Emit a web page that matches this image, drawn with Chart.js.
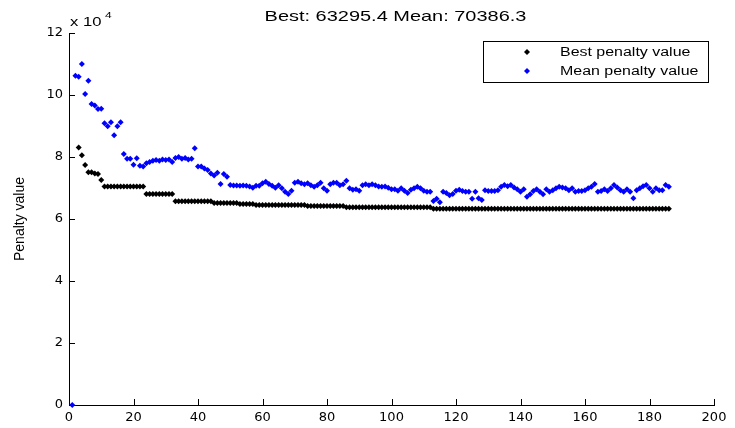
<!DOCTYPE html>
<html>
<head>
<meta charset="utf-8">
<script src="https://cdn.jsdelivr.net/npm/chart.js@4.4.0/dist/chart.umd.min.js"></script>
<style>
  html, body { margin: 0; padding: 0; background: #fff; }
</style>
</head>
<body>
<canvas id="chart" width="735" height="428"></canvas>
<script>
// values, penalty in units of 10^4
const titleText = 'Best: 63295.4 Mean: 70386.3';
const xTicks = [0, 20, 40, 60, 80, 100, 120, 140, 160, 180, 200];
const yTicks = [0, 2, 4, 6, 8, 10, 12];
const seriesLabels = ['Best penalty value', 'Mean penalty value'];

const meanStartGen = 1;
const meanPenalty = [
  0, 10.62, 10.59, 11.00, 10.03, 10.46, 9.71, 9.66, 9.55, 9.56,
  9.09, 8.99, 9.12, 8.70, 8.99, 9.12, 8.10, 7.94, 7.94, 7.75,
  7.96, 7.72, 7.69, 7.80, 7.84, 7.88, 7.90, 7.88, 7.92, 7.90,
  7.92, 7.84, 7.97, 8.00, 7.94, 7.97, 7.92, 7.94, 8.28, 7.69,
  7.69, 7.63, 7.58, 7.47, 7.40, 7.49, 7.13, 7.45, 7.36, 7.10,
  7.08, 7.08, 7.07, 7.08, 7.07, 7.05, 7.01, 7.07, 7.07, 7.15,
  7.20, 7.13, 7.07, 7.01, 7.09, 6.99, 6.88, 6.81, 6.91, 7.17,
  7.20, 7.15, 7.12, 7.15, 7.09, 7.04, 7.09, 7.17, 6.99, 6.91,
  7.12, 7.17, 7.17, 7.09, 7.12, 7.23, 6.99, 6.94, 6.96, 6.91,
  7.09, 7.12, 7.09, 7.12, 7.09, 7.05, 7.04, 7.05, 7.01, 6.96,
  6.96, 6.91, 6.99, 6.91, 6.84, 6.94, 6.99, 7.04, 6.99, 6.91,
  6.88, 6.88, 6.58, 6.65, 6.54, 6.88, 6.84, 6.77, 6.81, 6.91,
  6.94, 6.90, 6.88, 6.88, 6.65, 6.88, 6.67, 6.61, 6.93, 6.90,
  6.90, 6.90, 6.93, 7.04, 7.10, 7.06, 7.10, 7.02, 6.96, 6.88,
  6.96, 6.72, 6.80, 6.90, 6.96, 6.88, 6.80, 6.96, 6.88, 6.93,
  6.99, 7.04, 7.02, 6.99, 6.93, 6.99, 6.88, 6.90, 6.90, 6.93,
  6.99, 7.04, 7.13, 6.88, 6.90, 6.96, 6.90, 6.99, 7.10, 7.02,
  6.93, 6.88, 6.96, 6.88, 6.67, 6.93, 6.99, 7.06, 7.10, 6.99,
  6.88, 6.99, 6.93, 6.93, 7.10, 7.04
];

const bestStartGen = 3;
const bestPenalty = [
  8.31, 8.06, 7.74, 7.51, 7.51, 7.47, 7.45, 7.26,
  7.05, 7.05, 7.05, 7.05, 7.05, 7.05, 7.05, 7.05, 7.05, 7.05, 7.05, 7.05, 7.05,
  6.81, 6.81, 6.81, 6.81, 6.81, 6.81, 6.81, 6.81, 6.81,
  6.57, 6.57, 6.57, 6.57, 6.57, 6.57, 6.57, 6.57, 6.57, 6.57, 6.57, 6.57,
  6.52, 6.52, 6.52, 6.52, 6.52, 6.52, 6.52, 6.52,
  6.48, 6.48, 6.48, 6.48, 6.48,
  6.45, 6.45, 6.45, 6.45, 6.45, 6.45, 6.45, 6.45, 6.45, 6.45, 6.45, 6.45, 6.45, 6.45, 6.45, 6.45,
  6.42, 6.42, 6.42, 6.42, 6.42, 6.42, 6.42, 6.42, 6.42, 6.42, 6.42, 6.42,
  6.38, 6.38, 6.38, 6.38, 6.38, 6.38, 6.38, 6.38, 6.38, 6.38, 6.38, 6.38, 6.38, 6.38,
  6.38, 6.38, 6.38, 6.38, 6.38, 6.38, 6.38, 6.38, 6.38, 6.38, 6.38, 6.38, 6.38,
  6.33, 6.33, 6.33, 6.33, 6.33, 6.33, 6.33, 6.33, 6.33, 6.33, 6.33, 6.33, 6.33, 6.33, 6.33,
  6.33, 6.33, 6.33, 6.33, 6.33, 6.33, 6.33, 6.33, 6.33, 6.33, 6.33, 6.33, 6.33, 6.33, 6.33,
  6.33, 6.33, 6.33, 6.33, 6.33, 6.33, 6.33, 6.33, 6.33, 6.33, 6.33, 6.33, 6.33, 6.33, 6.33,
  6.33, 6.33, 6.33, 6.33, 6.33, 6.33, 6.33, 6.33, 6.33, 6.33, 6.33, 6.33, 6.33, 6.33, 6.33,
  6.33, 6.33, 6.33, 6.33, 6.33, 6.33, 6.33, 6.33, 6.33, 6.33, 6.33, 6.33, 6.33, 6.33
];

const toPoints = (vals, start) => vals.map((v, i) => ({ x: start + i, y: v }));

// the reference figure is stretched sideways, so the drawn text is too
const STRETCH = 1.33;

function diamond(ctx, x, y, r) {
  ctx.beginPath();
  ctx.moveTo(x, y - r);
  ctx.lineTo(x + r, y);
  ctx.lineTo(x, y + r);
  ctx.lineTo(x - r, y);
  ctx.closePath();
  ctx.fill();
}

function wideText(ctx, text, x, y, size, align) {
  ctx.save();
  ctx.translate(x, y);
  ctx.scale(STRETCH, 1);
  ctx.font = size + 'px "Liberation Sans", Arial, sans-serif';
  ctx.textAlign = align;
  ctx.textBaseline = 'alphabetic';
  ctx.fillStyle = '#000';
  ctx.fillText(text, 0, 0);
  ctx.restore();
}

const matlabLook = {
  id: 'matlabLook',
  beforeDatasetsDraw(chart) {
    const { ctx, chartArea, scales } = chart;
    ctx.save();
    ctx.strokeStyle = '#000';
    ctx.lineWidth = 1;
    ctx.beginPath();
    xTicks.forEach(v => {
      const px = Math.round(scales.x.getPixelForValue(v)) + 0.5;
      ctx.moveTo(px, chartArea.bottom);
      ctx.lineTo(px, chartArea.bottom - 6);
    });
    yTicks.forEach(v => {
      const py = Math.round(scales.y.getPixelForValue(v)) + 0.5;
      ctx.moveTo(chartArea.left, py);
      ctx.lineTo(chartArea.left + 6, py);
    });
    ctx.stroke();
    ctx.restore();
  },
  afterDraw(chart) {
    const { ctx, chartArea } = chart;
    const mid = (chartArea.left + chartArea.right) / 2;
    wideText(ctx, titleText, mid + 4, chartArea.top - 12, 15, 'center');

    // exponent label over the y axis
    wideText(ctx, 'x 10', chartArea.left + 1, chartArea.top - 7, 12.5, 'left');
    wideText(ctx, '4', chartArea.left + 36, chartArea.top - 15, 9, 'left');

    // legend box
    const bw = 225, bh = 41;
    const bx = chartArea.right - 6 - bw, by = chartArea.top + 8;
    ctx.save();
    ctx.fillStyle = '#fff';
    ctx.fillRect(bx, by, bw, bh);
    ctx.strokeStyle = '#000';
    ctx.lineWidth = 1;
    ctx.strokeRect(bx + 0.5, by + 0.5, bw, bh);
    chart.data.datasets.forEach((ds, i) => {
      const ry = by + 11 + i * 19;
      ctx.fillStyle = ds.backgroundColor;
      diamond(ctx, bx + 44, ry, 3);
      wideText(ctx, ds.label, bx + 77, ry + 4, 12, 'left');
    });
    ctx.restore();
  }
};

const tickFont = { family: '"DejaVu Sans", sans-serif', size: 13 };

new Chart(document.getElementById('chart'), {
  type: 'scatter',
  data: {
    datasets: [
      {
        label: seriesLabels[0],
        data: toPoints(bestPenalty, bestStartGen),
        backgroundColor: '#000000',
        pointStyle: 'rectRot',
        pointRadius: 3,
        pointBorderWidth: 0,
        clip: false
      },
      {
        label: seriesLabels[1],
        data: toPoints(meanPenalty, meanStartGen),
        backgroundColor: '#0000ff',
        pointStyle: 'rectRot',
        pointRadius: 3,
        pointBorderWidth: 0,
        clip: false
      }
    ]
  },
  options: {
    responsive: false,
    animation: false,
    events: [],
    devicePixelRatio: 1,
    layout: { padding: { top: 33, right: 21, left: 0, bottom: 0 } },
    plugins: {
      legend: { display: false },
      tooltip: { enabled: false }
    },
    scales: {
      x: {
        type: 'linear',
        min: 0,
        max: 200,
        afterBuildTicks: s => { s.ticks = xTicks.map(v => ({ value: v })); },
        afterFit: s => { s.height = 23; },
        ticks: { font: tickFont, color: '#000', padding: 5, maxRotation: 0, autoSkip: false },
        grid: { drawOnChartArea: false, drawTicks: false },
        border: { color: '#000', width: 1 }
      },
      y: {
        min: 0,
        max: 12,
        afterBuildTicks: s => { s.ticks = yTicks.map(v => ({ value: v })); },
        afterFit: s => { s.width = 69; },
        ticks: { font: tickFont, color: '#000', padding: 6 },
        grid: { drawOnChartArea: false, drawTicks: false },
        border: { color: '#000', width: 1 },
        title: {
          display: true,
          text: 'Penalty value',
          color: '#000',
          font: { family: '"Liberation Sans", Arial, sans-serif', size: 14 },
          padding: { top: 12, bottom: 0 }
        }
      }
    }
  },
  plugins: [matlabLook]
});
</script>
</body>
</html>
